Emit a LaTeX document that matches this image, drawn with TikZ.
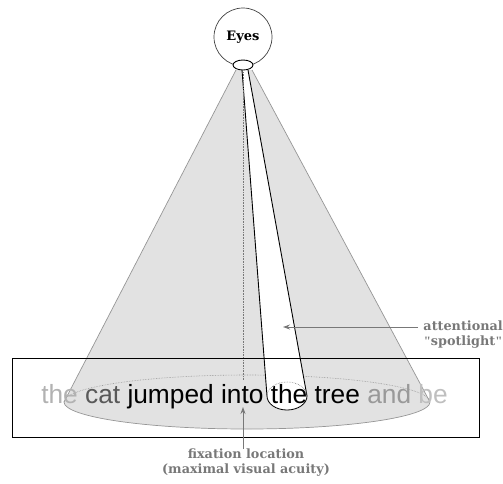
\documentclass[tikz,border=0pt]{standalone}
\usepackage{fontspec}
\setmainfont{DejaVu Serif}
\newfontfamily\sentfont{Liberation Sans}
\newfontfamily\quotefont{Liberation Serif}
\usetikzlibrary{arrows.meta,shapes.geometric}
\definecolor{conefill}{RGB}{226,226,226}
\definecolor{coneedge}{RGB}{150,150,150}
\definecolor{labelgray}{RGB}{120,120,120}
\tikzset{
  lbl/.style={font=\bfseries\fontsize{12.8}{15}\selectfont, text=labelgray, align=center, inner sep=0pt},
  pointer/.style={draw=labelgray, line width=0.9pt, -{Stealth[length=7pt,width=5pt]}},
}
\newcommand{\sq}{{\quotefont\bfseries\symbol{34}}}
\begin{document}
\begin{tikzpicture}[x=1pt,y=-1pt]
\useasboundingbox (0,0) rectangle (503,483);
% big cone
\fill[conefill] (236,70) -- (64,402) arc[start angle=180, end angle=0, x radius=183, y radius=27] -- (252,70) -- cycle;
\draw[coneedge, line width=0.7pt] (236,70) -- (64,402);
\draw[coneedge, line width=0.7pt] (252,70) -- (430,402);
\draw[coneedge, line width=0.7pt] (64,402) arc[start angle=180, end angle=0, x radius=183, y radius=27];
\draw[coneedge, line width=0.6pt, densely dotted] (64,402) arc[start angle=180, end angle=360, x radius=183, y radius=27];
% spotlight
\fill[white] (242,70) -- (267,396) arc[start angle=180, end angle=0, x radius=20, y radius=14] -- (307,396) -- (248,70) -- cycle;
\draw[black, line width=0.9pt] (242,70) -- (267,396);
\draw[black, line width=0.9pt] (248,70) -- (307,396);
\draw[black, line width=0.8pt] (267,396) arc[start angle=180, end angle=0, x radius=20, y radius=14];
\draw[gray, line width=0.6pt, densely dotted] (267,396) arc[start angle=180, end angle=360, x radius=20, y radius=14];
% fixation dotted line
\coordinate (fixtop) at (243,72);
\coordinate (fixbot) at (243,380);
\draw[labelgray, line width=0.6pt, densely dotted] (fixtop) -- (fixbot);
% eye
\node[circle, draw=black!75, fill=white, line width=0.7pt, minimum size=58pt, inner sep=0pt, font=\bfseries\fontsize{13}{15}\selectfont] (eyes) at (243,37) {Eyes};
\node[ellipse, draw=black, fill=white, line width=0.9pt, minimum width=20pt, minimum height=10pt, inner sep=0pt] (pupil) at (243,65) {};
% sentence
\node[inner sep=0pt, anchor=base, font=\sentfont\fontsize{26.3}{30}\selectfont] (sent) at (244.5,403)
  {\textcolor{black!30}{the} \textcolor{black!65}{cat} jumped into the tree \textcolor{black!40}{and} \textcolor{black!25}{be}};
% frame
\draw[black, line width=0.8pt] (12,358) rectangle (479,437);
% labels
\node[lbl, anchor=north] (fix) at (246,449) {fixation location\\(maximal visual acuity)};
\coordinate (fixtip) at (243,407);
\draw[pointer] (243,449) -- (fixtip);
\node[lbl, anchor=east] (spot) at (503,335) {attentional\\\sq spotlight\sq};
\coordinate (spottip) at (283,327);
\draw[pointer] (418,327) -- (spottip);
\end{tikzpicture}
\end{document}
